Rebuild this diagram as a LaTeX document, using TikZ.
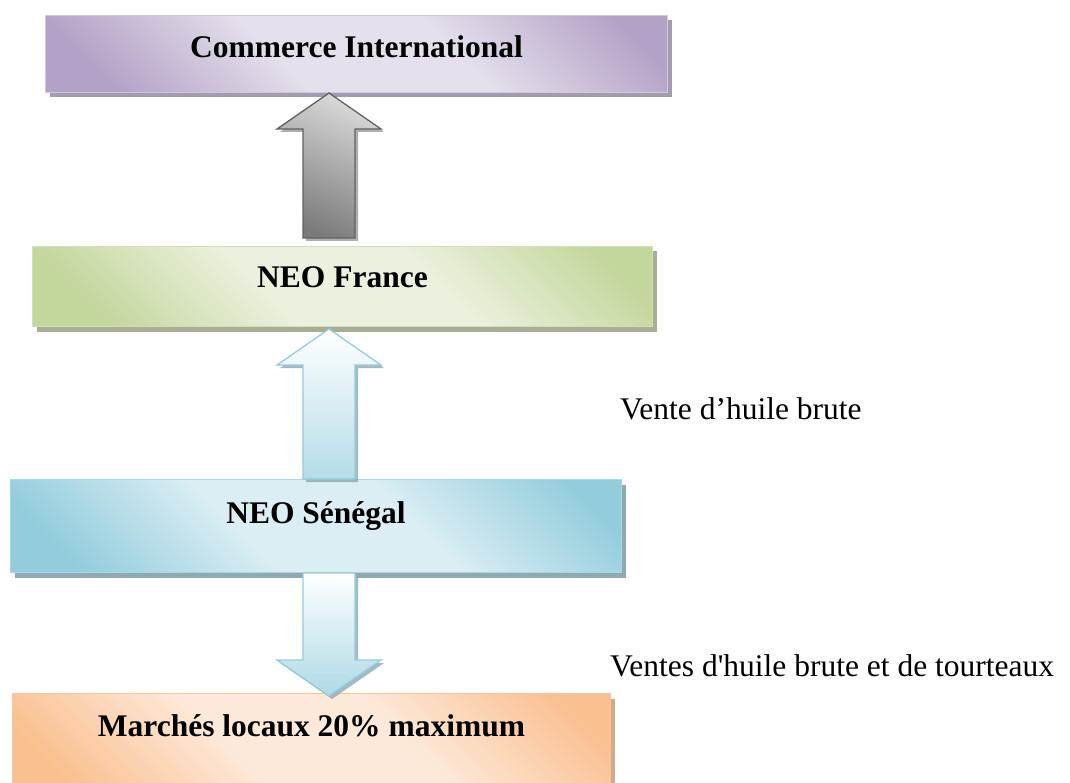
\documentclass[tikz,border=0pt]{standalone}
\usepackage{fontspec}
\setmainfont{Liberation Serif}
\usetikzlibrary{calc,shadows}
\definecolor{pdark}{HTML}{B3A2C7}\definecolor{plight}{HTML}{E6E0EC}\definecolor{pshadow}{HTML}{A39CAE}\definecolor{pborder}{HTML}{D2C8DE}
\definecolor{gdark}{HTML}{C3D69B}\definecolor{glight}{HTML}{EBF1DE}\definecolor{gshadow}{HTML}{A6AE95}\definecolor{gborder}{HTML}{D2E0B5}
\definecolor{bdark}{HTML}{93CDDD}\definecolor{blight}{HTML}{DBEEF4}\definecolor{bshadow}{HTML}{8EA9B0}\definecolor{bborder}{HTML}{A9D8E5}
\definecolor{odark}{HTML}{FAC090}\definecolor{olight}{HTML}{FDE9D9}\definecolor{oshadow}{HTML}{CFAA8C}\definecolor{oborder}{HTML}{F9C49A}
\newcommand\mkshade[3]{\pgfdeclareverticalshading{#1}{100bp}{color(0bp)=(#2); color(22bp)=(#2); color(42bp)=(#3); color(60bp)=(#3); color(80bp)=(#2); color(100bp)=(#2)}}
\mkshade{pshade}{pdark}{plight}
\mkshade{gshade}{gdark}{glight}
\mkshade{bshade}{bdark}{blight}
\mkshade{oshade}{odark}{olight}
\newcommand\fatarrow[3]{\draw[#1] let \p1=(#2), \p2=(#3), \n1={sign(\y2-\y1)} in
 (\x1-26,\y1) -- (\x1-26,\y2-\n1*36) -- (\x1-52,\y2-\n1*36) -- (\x1,\y2) -- (\x1+52,\y2-\n1*36) -- (\x1+26,\y2-\n1*36) -- (\x1+26,\y1) -- cycle;}
\tikzset{
  box/.style={anchor=north west, inner sep=0pt, line width=1pt, font=\bfseries\fontsize{31.5}{36}\selectfont, shading angle=-45},
  purplebox/.style={box, draw=pborder, shading=pshade, drop shadow={shadow xshift=4pt, shadow yshift=-5pt, fill=pshadow, opacity=1}},
  greenbox/.style={box, draw=gborder, shading=gshade, drop shadow={shadow xshift=4pt, shadow yshift=-5pt, fill=gshadow, opacity=1}},
  bluebox/.style={box, draw=bborder, shading=bshade, drop shadow={shadow xshift=4pt, shadow yshift=-5pt, fill=bshadow, opacity=1}},
  orangebox/.style={box, draw=oborder, shading=oshade, drop shadow={shadow xshift=4pt, shadow yshift=-5pt, fill=oshadow, opacity=1}},
  greyarrow/.style={draw=black!62, line width=1.3pt, top color=black!15, bottom color=black!52, shading angle=-25,
    drop shadow={shadow xshift=3pt, shadow yshift=-3pt, fill=black!45, opacity=.7}},
  bluearrowup/.style={draw=bdark, line width=1.3pt, top color=white, bottom color=bdark!70, shading angle=0,
    drop shadow={shadow xshift=3pt, shadow yshift=-3pt, fill=bshadow, opacity=.8}},
  bluearrowdown/.style={draw=bdark, line width=1.3pt, top color=white, bottom color=bdark!75, shading angle=0,
    drop shadow={shadow xshift=3pt, shadow yshift=-3pt, fill=bshadow, opacity=.8}},
  lbl/.style={anchor=base west, inner sep=0pt, font=\fontsize{31.5}{36}\selectfont}
}
\begin{document}
\begin{tikzpicture}[x=1pt, y=-1pt]
\useasboundingbox (0,0) rectangle (1070,783);
\clip (0,0) rectangle (1070,783);
\node[purplebox, minimum width=622, text height=42, text depth=35] (ci) at (45,15) {Commerce International};
\node[greenbox, minimum width=620, text height=41, text depth=39] (fr) at (32,246) {NEO France};
\node[bluebox, minimum width=611, text height=44, text depth=49] (se) at (10,479) {NEO Sénégal};
\node[orangebox, minimum width=598, text height=43, text depth=64] (ma) at (12,693) {Marchés locaux 20\% maximum};
\coordinate (g0) at (329,238);
\fatarrow{greyarrow}{g0}{g0|-ci.south}
\fatarrow{bluearrowup}{g0|-se.north}{$(g0|-fr.south)+(0,2)$}
\fatarrow{bluearrowdown}{g0|-se.south}{$(g0|-ma.north)+(0,3)$}
\node[lbl] (l1) at (620,419) {Vente d’huile brute};
\node[lbl] (l2) at (610,676) {Ventes d\textquotesingle huile brute et de tourteaux};
\end{tikzpicture}
\end{document}
